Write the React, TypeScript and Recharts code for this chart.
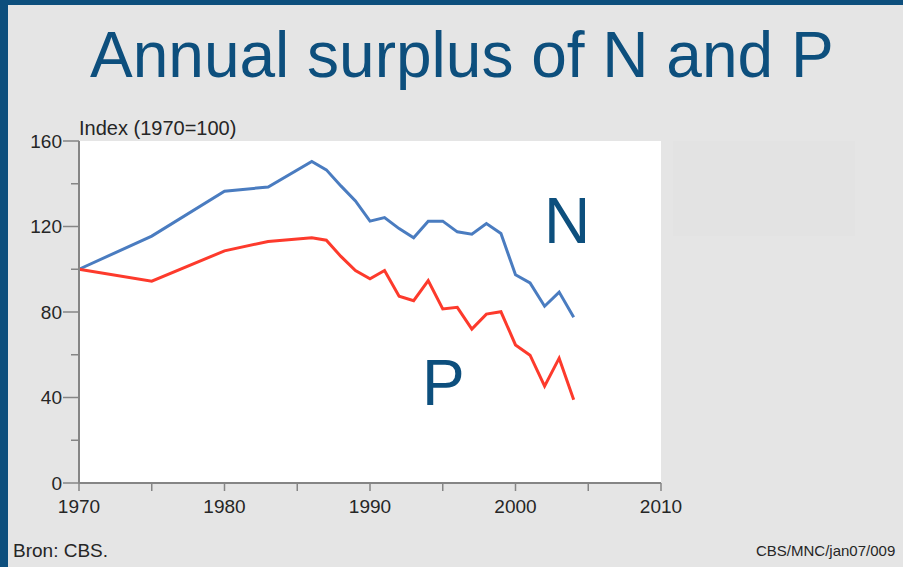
import { CartesianGrid, Line, LineChart, XAxis, YAxis } from "recharts";

const years = [
  1970, 1975, 1980, 1983, 1986, 1987, 1988, 1989, 1990, 1991, 1992, 1993,
  1994, 1995, 1996, 1997, 1998, 1999, 2000, 2001, 2002, 2003, 2004,
];
const nSurplus = [
  100, 115.5, 136.5, 138.5, 150.4, 146.5, 139, 132, 122.5, 124.2, 119, 114.7,
  122.5, 122.5, 117.5, 116.4, 121.4, 116.7, 97.4, 93.6, 82.7, 89.3, 77.5,
];
const pSurplus = [
  100, 94.4, 108.6, 113, 114.7, 113.6, 106, 99.4, 95.5, 99.4, 87.4, 85.3,
  94.7, 81.4, 82.2, 72, 79, 80.1, 64.6, 59.8, 45.3, 58.4, 39,
];
const xTicks = [1970, 1975, 1980, 1985, 1990, 1995, 2000, 2005, 2010];
const yTicks = [0, 20, 40, 60, 80, 100, 120, 140, 160];

const data = years.map((year, i) => ({ year, N: nSurplus[i], P: pSurplus[i] }));

const BLUE = "#0d4f7d";
const TEXT = "#262626";
const AXIS = "#858585";
const FONT = "'Liberation Sans', Arial, sans-serif";

function YTick({ x, y, payload }: any) {
  const major = payload.value % 40 === 0;
  return (
    <g>
      <line x1={x - (major ? 16 : 8)} x2={x} y1={y} y2={y} stroke={AXIS} strokeWidth={1.5} />
      {major && (
        <text x={x - 17} y={y} dy="0.36em" textAnchor="end" fontSize={19} fill={TEXT} fontFamily={FONT}>
          {payload.value}
        </text>
      )}
    </g>
  );
}

function XTick({ x, y, payload }: any) {
  const major = payload.value % 10 === 0;
  return (
    <g>
      <line x1={x} x2={x} y1={y} y2={y + 8} stroke={AXIS} strokeWidth={1.5} />
      {major && (
        <text x={x} y={y + 30} textAnchor="middle" fontSize={19} fill={TEXT} fontFamily={FONT}>
          {payload.value}
        </text>
      )}
    </g>
  );
}

export default function App() {
  return (
    <div
      style={{
        position: "absolute",
        left: 0,
        top: 0,
        width: 903,
        height: 567,
        background: "#e5e5e5",
        overflow: "hidden",
        fontFamily: FONT,
      }}
    >
      <div style={{ position: "absolute", left: 0, top: 0, width: 903, height: 5, background: BLUE }} />
      <div style={{ position: "absolute", left: 0, top: 0, width: 8, height: 567, background: BLUE }} />
      <div style={{ position: "absolute", left: 673, top: 141, width: 182, height: 95, background: "#e3e3e3" }} />
      <LineChart
        width={903}
        height={567}
        data={data}
        margin={{ top: 141, right: 242, bottom: 44, left: 0 }}
        style={{ position: "absolute", left: 0, top: 0 }}
      >
        <CartesianGrid horizontal={false} vertical={false} fill="#ffffff" fillOpacity={1} />
        <XAxis
          dataKey="year"
          type="number"
          domain={[1970, 2010]}
          ticks={xTicks}
          interval={0}
          height={40}
          tickSize={0}
          tickMargin={0}
          tickLine={false}
          axisLine={{ stroke: AXIS, strokeWidth: 2 }}
          tick={<XTick />}
        />
        <YAxis
          type="number"
          domain={[0, 160]}
          ticks={yTicks}
          interval={0}
          width={79}
          tickSize={0}
          tickMargin={0}
          tickLine={false}
          axisLine={{ stroke: AXIS, strokeWidth: 2 }}
          tick={<YTick />}
        />
        <Line
          type="linear"
          dataKey="N"
          stroke="#4a7cc0"
          strokeWidth={3}
          dot={false}
          isAnimationActive={false}
        />
        <Line
          type="linear"
          dataKey="P"
          stroke="#fd3a2c"
          strokeWidth={3}
          dot={false}
          isAnimationActive={false}
        />
      </LineChart>
      <svg width={903} height={567} style={{ position: "absolute", left: 0, top: 0, pointerEvents: "none" }}>
        <text x={90} y={77} fontSize={64} fill={BLUE} fontFamily={FONT}>
          Annual surplus of N and P
        </text>
        <text x={79} y={135} fontSize={20} fill={TEXT} fontFamily={FONT}>
          Index (1970=100)
        </text>
        <text x={544} y={243} fontSize={64} fill={BLUE} fontFamily={FONT}>
          N
        </text>
        <text x={422} y={405} fontSize={64} fill={BLUE} fontFamily={FONT}>
          P
        </text>
        <text x={13} y={557} fontSize={19} fill={TEXT} fontFamily={FONT}>
          Bron: CBS.
        </text>
        <text x={756} y={556} fontSize={15} fill={TEXT} fontFamily={FONT}>
          CBS/MNC/jan07/009
        </text>
      </svg>
    </div>
  );
}
